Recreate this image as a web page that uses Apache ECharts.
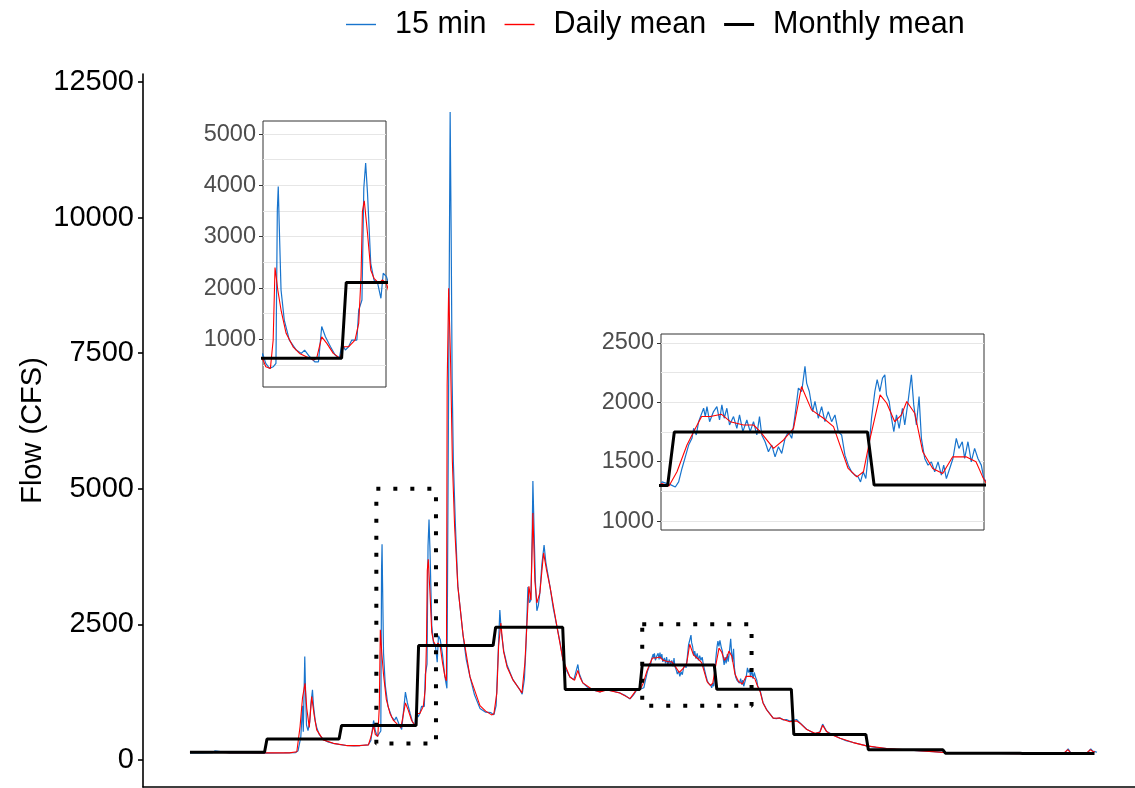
<!DOCTYPE html>
<html><head><meta charset="utf-8">
<script src="https://cdn.jsdelivr.net/npm/echarts@6/dist/echarts.min.js"></script>
<style>html,body{margin:0;padding:0;background:#fff}#c{width:1135px;height:788px}</style>
</head><body><div id="c"></div><script>
// ---------- DATA (day of water year, flow in CFS) ----------
const seriesNames = ['15 min', 'Daily mean', 'Monthly mean'];
const monthNames = ['Oct','Nov','Dec','Jan','Feb','Mar','Apr','May','Jun','Jul','Aug','Sep'];
const monthLengths = [31,30,31,31,28,31,30,31,30,31,31,30];
const monthlyMean = [140,385,633,2110,2446,1300,1750,1303,470,185,123,120];

const flow15min = [
[0,128],[5,130],[9,132],[10,165],[10.6,135],[16,130],[22,128],[30,126],[38,128],[42.5,135],[43.5,170],
[44.6,420],[45.3,1000],[45.6,520],[46.2,1905],[46.5,1300],[46.9,640],[47.5,540],[48.2,700],[48.6,1000],[49.3,1291],[49.7,1000],[50.4,720],[51,600],[52,470],[53.6,380],[55.5,330],[57.7,305],[60,285],[63,265],[66,258],[68.4,262],[70,270],[71.8,278],[72.8,360],[73.4,560],
[73.9,727],[74.6,532],[75.4,434],[76.2,466],[76.8,532],[77.1,3523],[77.3,3978],[77.5,3263],[77.9,1962],[78.6,1377],[79.7,987],[81.2,791],[82.3,727],[83,791],[84.1,661],[85.2,563],[86,563],[86.7,1250],[87.5,1050],[88.6,856],[89.6,694],[90.5,629],[91.1,922],[91.8,791],[92.5,856],[93.2,987],[94.3,987],[94.7,1572],[95.4,1767],[95.8,3946],[96.2,4434],[96.6,3849],[97.3,2483],[98,2157],[98.8,2093],[99.5,1800],[100,2288],[100.7,2222],
[101.6,1950],[102.5,1560],[103.4,1320],[103.9,1350],[104.3,8600],[104.7,11950],[105.1,9760],[105.5,7025],[106,5494],[106.8,4351],[107.8,3208],[109.9,2295],[111.2,1850],[112.7,1530],[114.5,1200],[116.7,950],[119,880],[121.1,870],[122.3,830],[123.2,1000],[123.8,1700],[124.7,2765],[125.3,2350],[126.3,2000],[127.6,1750],[130,1475],[132.8,1290],[133.7,1210],[134.6,1500],[135.2,2083],[136,3190],[136.6,2900],[137.2,2950],[137.7,4100],[138,5144],[138.5,4200],[139,3300],[139.6,2750],[140.2,2850],[140.8,3080],[141.6,3600],[142.5,3964],[143.2,3650],[144.9,3190],[146.2,2800],[147.7,2452],[149,2150],[150.1,1844],[151.5,1650],[152.9,1530],[154.5,1480],[156.1,1760],[156.6,1600],[158.1,1420],[160,1340],[162.2,1290],[163.5,1270],[165,1254],[166.5,1280],[167.8,1290],[170,1270],[173,1235],[175,1190],[177.1,1125],[178.5,1200],[179.9,1300],
[180.15,1330],[181.4,1307],[182.15,1287],[182.65,1330],[183.15,1443],[183.65,1541],[184.15,1640],[184.65,1697],[184.9,1781],[185.3,1725],[185.65,1837],[186.4,1950],[186.65,1880],[186.9,1964],[187.3,1837],[187.89,1922],[188.39,1964],[188.79,1851],[189.14,1978],[189.49,1866],[189.89,1950],[190.29,1809],[190.89,1880],[191.39,1781],[191.79,1894],[192.29,1753],[192.89,1851],[193.39,1753],[193.89,1837],[194.39,1725],[194.79,1880],[195.13,1725],[195.63,1668],[196.13,1584],[196.63,1640],[197.13,1541],[197.63,1626],[198.13,1570],[198.63,1697],[199.13,1753],[199.63,1697],[200.13,1894],[200.63,2119],[201.13,2091],[201.62,2303],[201.87,2162],[202.27,2091],[202.77,1922],[203.12,2007],[203.62,1866],[204.12,1964],[204.62,1837],[205.12,1922],[205.62,1837],[206.12,1894],[206.62,1753],[207.12,1725],[207.62,1555],[208.12,1471],[208.61,1415],[209.11,1387],[209.61,1372],[209.96,1330],[210.36,1415],[210.76,1358],[211.26,1640],[211.61,1866],[212.11,2091],[212.46,2190],[212.86,2091],[213.26,2204],[213.61,2232],[213.86,2063],[214.26,2007],[214.61,1866],[214.96,1753],[215.36,1894],[215.76,1781],[216.25,1950],[216.6,1809],[217.1,2007],[217.6,2232],[217.95,1978],[218.35,1809],[218.75,2049],[219.1,1697],[219.6,1527],[220.1,1471],[220.6,1499],[221.1,1415],[221.6,1499],[222.1,1387],[222.45,1471],[222.85,1358],[223.35,1443],[223.84,1527],[224.34,1697],[224.74,1612],[225.24,1668],[225.59,1527],[226.09,1668],[226.59,1499],[227.09,1612],[227.59,1527],[228.09,1471],[228.49,1358],
[229.4,1290],[230.6,1060],[232.1,925],[234.7,770],[236,760],[237.4,775],[238.8,737],[240,745],[241.4,715],[243,735],[244.1,745],[245.5,680],[248.2,566],[250,520],[251.5,480],[253.5,520],[254.6,660],[256.2,525],[258,480],[261.6,400],[264,355],[266.9,320],[272.3,258],[276,230],[280.4,209],[284,195],[288.4,184],[294,165],[299.1,153],[303,140],[307.2,125],[312,122],[319.2,123],[325,118],[332,115],[339.4,111],[345,112],[351.4,112],[352.5,150],[353.4,205],[354.3,140],[355.5,123],[358,120],[360.8,122],[361.8,160],[362.5,205],[363.3,160],[364.2,153],[365,140]
];

const flowDaily = [
[0,135],[6,135],[10,142],[16,134],[24,132],[32,130],[40,130],[43,150],[44.3,614],[45.3,1150],[46.3,1414],[47,950],[48,600],[49,1167],[50,820],[51,553],[53.6,369],[57.7,305],[63,264],[68.4,264],[71.8,277],[72.8,420],
[73.9,629],[74.6,466],[75.6,434],[76.2,987],[76.6,2400],[77.2,1962],[77.9,1572],[79,1117],[80.5,856],[81.9,727],[83.4,661],[84.9,596],[85.6,629],[86.7,1050],[87.8,922],[89.2,727],[90.7,629],[91.4,856],[92.5,856],[93.9,987],[94.7,1312],[95.2,2222],[95.5,3490],[95.9,3700],[96.6,3068],[97.3,2353],[98,2190],[99.1,2093],[99.8,2157],[100.7,2093],
[101.6,1800],[102.6,1540],[103.2,1460],[103.5,6900],[104.1,8700],[104.9,7300],[105.6,5500],[106.5,4300],[107.8,3200],[109.9,2300],[112.7,1530],[116.7,1000],[119,900],[121.4,830],[122.3,850],[123.5,1235],[124.2,2100],[125.1,2526],[126.2,2000],[127.6,1715],[130,1475],[132.8,1290],[133.6,1235],[134.8,1800],[135.6,2500],[136.4,3200],[137.2,2950],[138,4554],[138.8,3300],[139.6,2895],[140.8,3080],[142.3,3817],[143.5,3500],[144.9,3190],[147.7,2452],[150.1,1844],[152.9,1530],[154.8,1470],[156.1,1650],[157,1520],[158.1,1420],[162.2,1290],[165,1254],[167.8,1290],[173,1235],[177.1,1130],[179,1250],
[180.1,1316],[181.2,1296],[182.4,1415],[183.9,1640],[184.9,1753],[186.1,1880],[187.4,1880],[189.1,1899],[190.4,1837],[192.4,1809],[193.9,1809],[194.9,1753],[196.9,1612],[198.4,1683],[199.9,1781],[201.1,2133],[202.6,1936],[204.4,1866],[205.9,1795],[208.1,1443],[209.4,1372],[210.4,1415],[211.4,1697],[212.9,2063],[213.9,1992],[215.1,1837],[216.1,1894],[216.9,2007],[218.1,1908],[219.3,1584],[220.8,1443],[222.3,1400],[223.8,1541],[225.8,1541],[227.3,1499],[228.3,1372],
[229.5,1250],[230.6,1050],[232.1,920],[234.7,769],[237.4,770],[239,740],[241.4,705],[244.1,720],[245.5,677],[248.2,560],[251.5,490],[253.5,510],[254.6,640],[256.2,522],[258,470],[261.6,400],[266.9,319],[272.3,258],[280.4,209],[288.4,184],[299.1,153],[307.2,123],[319.2,123],[339.4,111],[351.4,111],[353.2,190],[354.5,130],[355.5,123],[360.8,123],[362.3,190],[363.5,150],[364.2,150]
];

// zoom boxes: [dayStart, dayEnd, flowLow, flowHigh]
const zoomBox1 = [75, 99, 300, 5000];
const zoomBox2 = [182, 226, 1000, 2500];

// tick labels
const mainTicks = [0, 2500, 5000, 7500, 10000, 12500];
const inset1Ticks = [1000, 2000, 3000, 4000, 5000];
const inset1Grid = [500,1000,1500,2000,2500,3000,3500,4000,4500,5000];
const inset2Ticks = [1000, 1500, 2000, 2500];
const inset2Grid = [1000,1250,1500,1750,2000,2250,2500];

// ---------- BUILD ----------
const monthlyStep = [];
let start = 0;
monthLengths.forEach((len, i) => {
  monthlyStep.push([start, monthlyMean[i]]);
  monthlyStep.push([start + len - 1, monthlyMean[i]]);
  start += len;
});
function boxPath(b) {
  return [[b[0], b[3]], [b[1], b[3]], [b[1], b[2]], [b[0], b[2]], [b[0], b[3]]];
}

const FONT = '"Liberation Sans", Arial, sans-serif';
const BLUE = '#1874CD', RED = '#FF0000', BLACK = '#000000';
const plain = v => String(v);

function hiddenX(gi, min, max) {
  return {type:'value', gridIndex:gi, min:min, max:max, axisLine:{show:false}, axisTick:{show:false}, axisLabel:{show:false}, splitLine:{show:false}};
}
function gridY(gi, min, max, vals) {
  return {type:'value', gridIndex:gi, min:min, max:max, axisLine:{show:false},
    axisTick:{show:false, customValues: vals}, axisLabel:{show:false, customValues: vals},
    splitLine:{show:true, lineStyle:{color:'#e6e6e6', width:1}}};
}
function labelY(gi, min, max, vals) {
  return {type:'value', gridIndex:gi, min:min, max:max, position:'left', axisLine:{show:false},
    axisTick:{show:true, length:4, customValues: vals, lineStyle:{color:'#333', width:1}},
    axisLabel:{customValues: vals, formatter: plain, fontSize:23.5, color:'#4d4d4d', fontFamily:FONT, margin:7},
    splitLine:{show:false}};
}
function trio(xi, yi, z) {
  return [
    {name:seriesNames[0], type:'line', xAxisIndex:xi, yAxisIndex:yi, data:flow15min, symbol:'none', z:z,
      lineStyle:{color:BLUE, width:1.2}, itemStyle:{color:BLUE}},
    {name:seriesNames[1], type:'line', xAxisIndex:xi, yAxisIndex:yi, data:flowDaily, symbol:'none', z:z+1,
      lineStyle:{color:RED, width:1.1}, itemStyle:{color:RED}},
    {name:seriesNames[2], type:'line', xAxisIndex:xi, yAxisIndex:yi, data:monthlyStep, symbol:'none', z:z+2,
      lineStyle:{color:BLACK, width:3}, itemStyle:{color:BLACK}}
  ];
}

const option = {
  animation:false,
  backgroundColor:'#ffffff',
  textStyle:{fontFamily:FONT},
  legend:{left:346, top:9, padding:0, itemWidth:30, itemHeight:14, itemGap:18,
    textStyle:{fontSize:30.5, color:'#000', fontFamily:FONT, padding:[0,0,0,14]},
    data:[
      {name:seriesNames[0], icon:'path://M0,0H30V1.4H0Z'},
      {name:seriesNames[1], icon:'path://M0,0H30V1.4H0Z'},
      {name:seriesNames[2], icon:'path://M0,0H30V3H0Z'}
    ]},
  grid:[
    {left:143, top:74, width:992, height:713},
    {left:263, top:121, width:123, height:266, show:true, backgroundColor:'#fff', borderColor:'#333', borderWidth:1},
    {left:661, top:334, width:323, height:196, show:true, backgroundColor:'#fff', borderColor:'#333', borderWidth:1}
  ],
  xAxis:[
    {type:'value', gridIndex:0, min:-18.9, max:380.3,
      axisLine:{show:true, onZero:false, lineStyle:{color:'#000', width:1.6}},
      axisTick:{show:false}, axisLabel:{show:false}, splitLine:{show:false}},
    hiddenX(1, 74, 100.6),
    hiddenX(2, 180, 228.5)
  ],
  yAxis:[
    {type:'value', gridIndex:0, min:-500, max:12650,
      axisLine:{show:true, onZero:false, lineStyle:{color:'#000', width:1.6}},
      axisTick:{show:true, length:5, customValues:mainTicks, lineStyle:{color:'#000', width:1.6}},
      axisLabel:{customValues:mainTicks, formatter: plain, fontSize:29, color:'#000', fontFamily:FONT, margin:9},
      splitLine:{show:false},
      name:'Flow (CFS)', nameLocation:'middle', nameGap:96, nameMoveOverlap:false,
      nameTextStyle:{fontSize:29, color:'#000', fontFamily:FONT}},
    gridY(1, 72, 5255, inset1Grid),
    labelY(1, 72, 5255, inset1Ticks),
    gridY(2, 925, 2575, inset2Grid),
    labelY(2, 925, 2575, inset2Ticks)
  ],
  series: [].concat(
    trio(0, 0, 2),
    [
      {name:'box1', type:'line', xAxisIndex:0, yAxisIndex:0, data:boxPath(zoomBox1), symbol:'none', silent:true, z:6,
        lineStyle:{color:'#000', width:4, type:[4,13]}},
      {name:'box2', type:'line', xAxisIndex:0, yAxisIndex:0, data:boxPath(zoomBox2), symbol:'none', silent:true, z:6,
        lineStyle:{color:'#000', width:4, type:[4,13]}}
    ],
    trio(1, 1, 10),
    trio(2, 3, 10)
  )
};
const chart = echarts.init(document.getElementById('c'));
chart.setOption(option);
</script></body></html>
